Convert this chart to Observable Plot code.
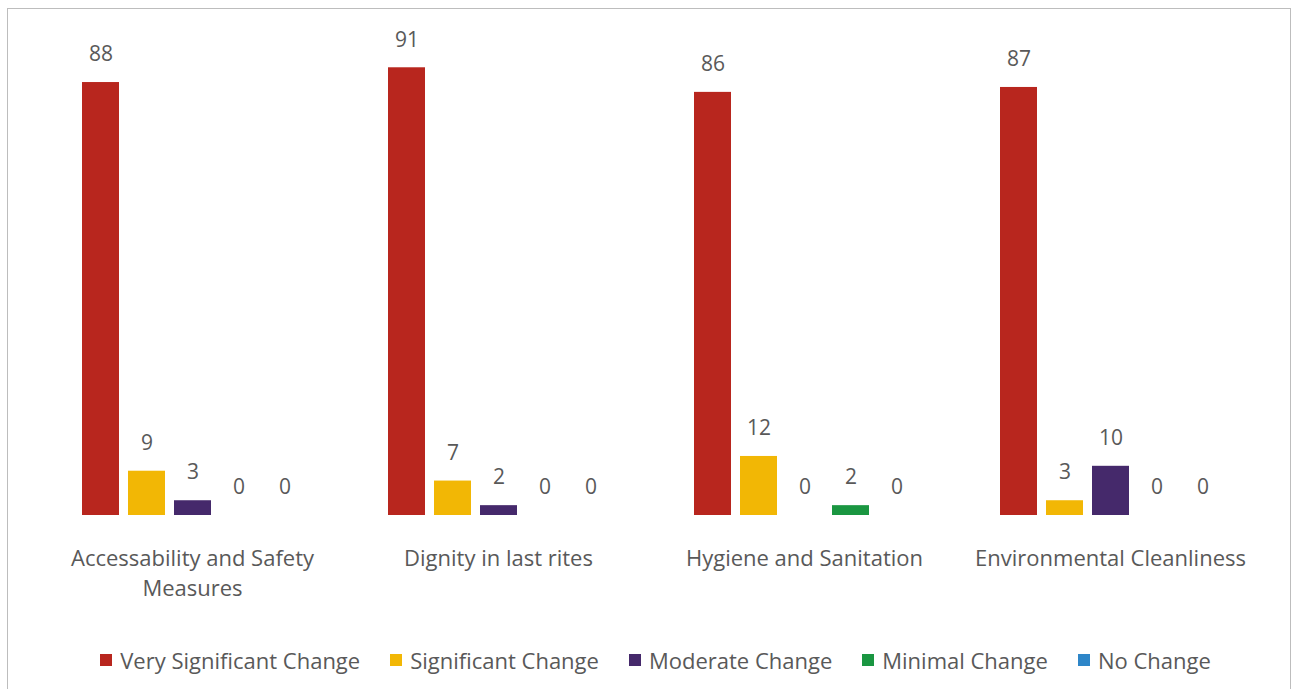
<!DOCTYPE html>
<html>
<head>
<meta charset="utf-8">
<script src="https://cdn.jsdelivr.net/npm/d3@7"></script>
<script src="https://cdn.jsdelivr.net/npm/@observablehq/plot@0.6"></script>
<style>
  html, body { margin: 0; padding: 0; background: #fff; }
  body { width: 1297px; height: 689px; position: relative; overflow: hidden; font-family: "Open Sans", sans-serif; }
  #frame { position: absolute; left: 7px; top: 8px; width: 1284px; height: 700px; border: 1.5px solid #bdbdbd; box-sizing: border-box; }
  #chart { position: absolute; left: 0; top: 0; }
  #legend { position: absolute; left: 0; width: 1297px; top: 645px; display: flex; justify-content: center; gap: 30px; font-size: 22px; color: #595959; padding-left: 14px; box-sizing: border-box; }
  #legend .item { display: flex; align-items: center; gap: 8px; white-space: nowrap; }
  #legend .sw { width: 12px; height: 12px; display: inline-block; }
</style>
</head>
<body>
<div id="frame"></div>
<div id="chart"></div>
<div id="legend"></div>
<script>
const categories = ["Accessability and Safety Measures", "Dignity in last rites", "Hygiene and Sanitation", "Environmental Cleanliness"];
const categoryLabels = ["Accessability and Safety\nMeasures", "Dignity in last rites", "Hygiene and Sanitation", "Environmental Cleanliness"];
const series = ["Very Significant Change", "Significant Change", "Moderate Change", "Minimal Change", "No Change"];
const verySignificant = [88, 91, 86, 87];
const significant = [9, 7, 12, 3];
const moderate = [3, 2, 0, 10];
const minimal = [0, 0, 2, 0];
const noChange = [0, 0, 0, 0];
const colors = ["#B8261E", "#F2B705", "#45296B", "#1A9641", "#2E86C8"];

const seriesValues = [verySignificant, significant, moderate, minimal, noChange];
const data = [];
categories.forEach((c, i) => {
  series.forEach((s, j) => data.push({category: c, series: s, value: seriesValues[j][i]}));
});
const labelOf = new Map(categories.map((c, i) => [c, categoryLabels[i]]));

const chart = Plot.plot({
  width: 1297,
  height: 625,
  marginLeft: 80,
  marginRight: 74,
  marginTop: 23,
  marginBottom: 110,
  style: {fontFamily: "'Open Sans', sans-serif", background: "transparent"},
  fx: {domain: categories, paddingInner: 0.2736, paddingOuter: 0, label: null, axis: null},
  x: {domain: series, paddingInner: 0.2, paddingOuter: 0, axis: null},
  y: {domain: [0, 100], axis: null},
  color: {domain: series, range: colors},
  marks: [
    Plot.barY(data, {fx: "category", x: "series", y: "value", fill: "series"}),
    Plot.text(data, {fx: "category", x: "series", y: "value", text: d => String(d.value), dy: -28, fontSize: 21, fill: "#595959"}),
    Plot.axisFx({anchor: "bottom", tickSize: 0, tickPadding: 29, tickFormat: d => labelOf.get(d), fontSize: 22, lineHeight: 1.36, fill: "#595959", label: null})
  ]
});
document.getElementById("chart").appendChild(chart);

const legend = document.getElementById("legend");
series.forEach((s, j) => {
  const item = document.createElement("div");
  item.className = "item";
  const sw = document.createElement("span");
  sw.className = "sw";
  sw.style.background = colors[j];
  const t = document.createElement("span");
  t.textContent = s;
  item.appendChild(sw);
  item.appendChild(t);
  legend.appendChild(item);
});
</script>
</body>
</html>
